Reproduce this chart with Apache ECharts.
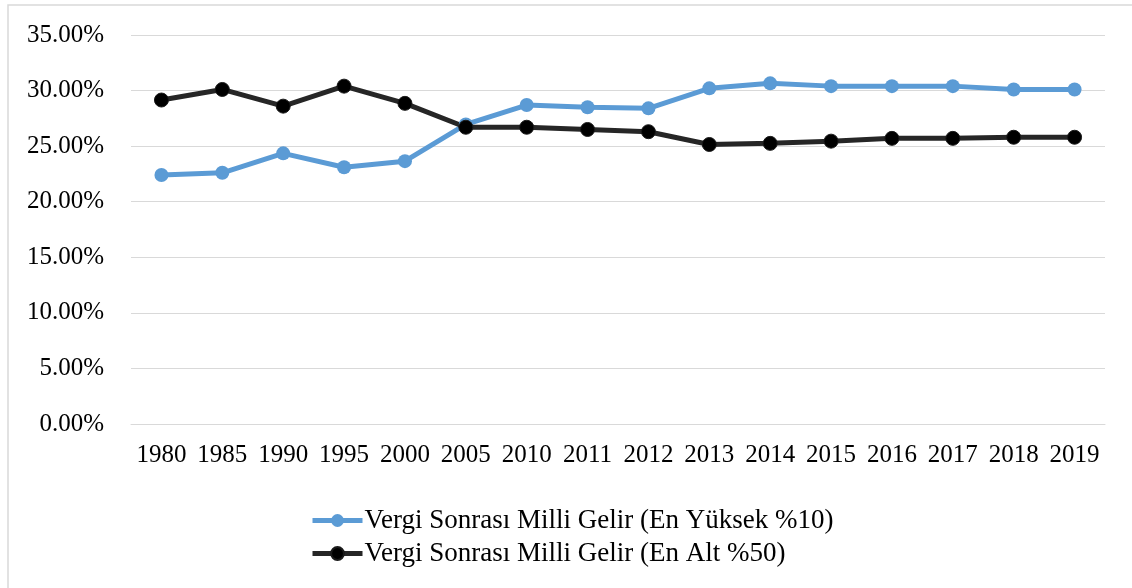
<!DOCTYPE html>
<html>
<head>
<meta charset="utf-8">
<script src="https://cdn.jsdelivr.net/npm/echarts@6/dist/echarts.min.js"></script>
<style>
  html, body { margin: 0; padding: 0; background: #fff; }
  #chart { width: 1132px; height: 588px; }
</style>
</head>
<body>
<div id="chart"></div>
<script>
// yillar
var years = ['1980','1985','1990','1995','2000','2005','2010','2011','2012','2013','2014','2015','2016','2017','2018','2019'];
// en yuksek %10
var top10 = [22.4, 22.6, 24.35, 23.1, 23.65, 26.95, 28.7, 28.5, 28.4, 30.2, 30.65, 30.4, 30.4, 30.4, 30.1, 30.1];
// en alt %50
var bottom50 = [29.15, 30.1, 28.6, 30.4, 28.85, 26.7, 26.7, 26.5, 26.3, 25.15, 25.25, 25.45, 25.7, 25.7, 25.8, 25.8];

var names = ['Vergi Sonrası Milli Gelir (En Yüksek %10)', 'Vergi Sonrası Milli Gelir (En Alt %50)'];

var chart = echarts.init(document.getElementById('chart'));
var font = 'Liberation Serif';

var option = {
    animation: false,
    textStyle: { fontFamily: font },
    graphic: [{
        type: 'rect',
        shape: { x: 8, y: 5, width: 1200, height: 700 },
        style: { fill: 'none', stroke: '#d9d9d9', lineWidth: 1.5 },
        silent: true
    }],
    grid: { left: 131, right: 27, top: 35, bottom: 164 },
    legend: {
        orient: 'vertical',
        left: 305,
        top: 502,
        itemWidth: 50,
        itemHeight: 16,
        itemGap: 6,
        lineStyle: { width: 5 },
        textStyle: { fontFamily: font, fontSize: 27, color: '#000', padding: [0, 0, 0, -3] },
        data: names
    },
    xAxis: {
        type: 'category',
        data: years,
        boundaryGap: true,
        axisLine: { lineStyle: { color: '#d9d9d9', width: 1 } },
        axisTick: { show: false },
        axisLabel: { color: '#000', fontSize: 25, fontFamily: font, margin: 19, interval: 0 }
    },
    yAxis: {
        type: 'value',
        min: 0,
        max: 35,
        interval: 5,
        axisLine: { show: false },
        axisTick: { show: false },
        splitLine: { lineStyle: { color: '#d9d9d9', width: 1 } },
        axisLabel: {
            color: '#000', fontSize: 25, fontFamily: font, margin: 27,
            formatter: function (v) { return v.toFixed(2) + '%'; }
        }
    },
    series: [
        {
            name: names[0],
            type: 'line',
            data: top10,
            symbol: 'circle',
            symbolSize: 14,
            lineStyle: { color: '#5b9bd5', width: 5 },
            itemStyle: { color: '#5b9bd5' }
        },
        {
            name: names[1],
            type: 'line',
            data: bottom50,
            symbol: 'circle',
            symbolSize: 14,
            lineStyle: { color: '#262626', width: 5 },
            itemStyle: { color: '#000', borderColor: '#1a1a1a', borderWidth: 1 }
        }
    ]
};

chart.setOption(option);
</script>
</body>
</html>
